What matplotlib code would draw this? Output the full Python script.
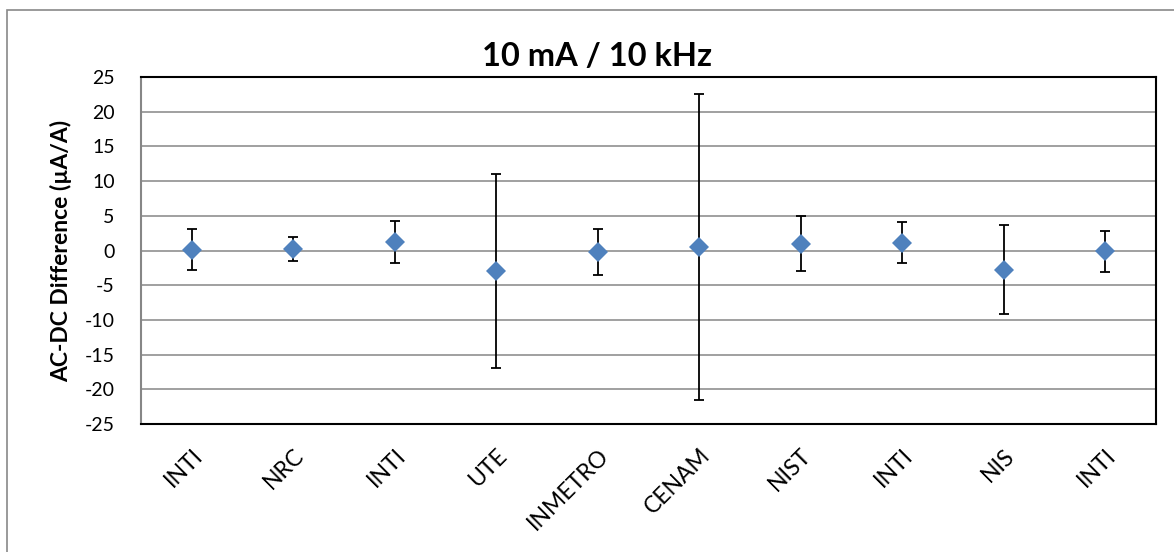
import matplotlib.pyplot as plt
from matplotlib.patches import Rectangle
import numpy as np

plt.rcParams['font.family'] = ['Lato', 'DejaVu Sans']
plt.rcParams['axes.unicode_minus'] = False

# 数据
labs = ['INTI', 'NRC', 'INTI', 'UTE', 'INMETRO', 'CENAM', 'NIST', 'INTI', 'NIS', 'INTI']
vals = [0.1, 0.2, 1.2, -3.0, -0.17, 0.45, 1.0, 1.15, -2.75, -0.12]
errs = [2.95, 1.75, 3.0, 14.0, 3.3, 22.05, 4.0, 2.95, 6.45, 2.97]
yticks = [25, 20, 15, 10, 5, 0, -5, -10, -15, -20, -25]

W, H = 1174, 552
fig = plt.figure(figsize=(W / 100, H / 100), dpi=100)

# 外框（右侧和底部超出画面）
fig.patches.append(Rectangle((7 / W, -0.2), 1.2, 1.2 - 10 / H, transform=fig.transFigure,
                             fill=False, edgecolor='#898989', lw=1.2))

left, right, top, bottom = 141, 1156, 77, 424
ax = fig.add_axes([left / W, 1 - bottom / H, (right - left) / W, (bottom - top) / H])

x = np.arange(len(labs)) + 0.5
ax.errorbar(x, vals, yerr=errs, fmt='none', ecolor='black', elinewidth=1.3,
            capsize=3.9, capthick=1.3, zorder=3)
ax.plot(x, vals, 'D', color='#4F81BD', markersize=10.5, markeredgewidth=0, zorder=4)

ax.set_xlim(0, len(labs))
ax.set_ylim(-25, 25)
ax.set_yticks(yticks)
ax.yaxis.grid(True, color='#868686', lw=1.1)
ax.set_axisbelow(True)
ax.tick_params(axis='y', length=0, labelsize=14, pad=19)
ax.tick_params(axis='x', length=0, pad=15)
ax.set_xticks(x)
ax.set_xticklabels(labs, rotation=45, ha='right', rotation_mode='anchor', fontsize=16.5)

for s in ['top', 'right', 'bottom']:
    ax.spines[s].set_color('black')
    ax.spines[s].set_linewidth(1.5)
ax.spines['left'].set_color('#868686')
ax.spines['left'].set_linewidth(1.5)

ax.set_ylabel('AC-DC Difference (µA/A)', fontsize=16.5, fontweight='bold', labelpad=9)
fig.text(597 / W, 1 - 57 / H, '10 mA / 10 kHz', ha='center', va='center',
         fontsize=23.5, fontweight='bold')

fig.savefig('out.png', dpi=100)
